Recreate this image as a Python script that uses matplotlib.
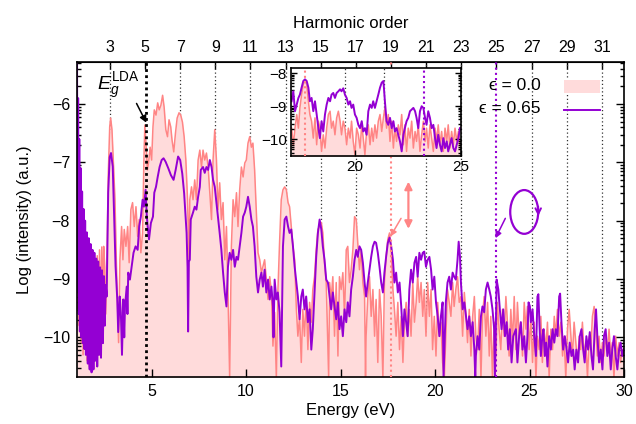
import numpy as np
import matplotlib
matplotlib.use("Agg")
import matplotlib.pyplot as plt
from matplotlib.patches import Ellipse, Rectangle
from matplotlib.lines import Line2D
from matplotlib.ticker import FixedLocator

plt.rcParams["font.family"] = ["Liberation Sans", "DejaVu Sans"]
plt.rcParams["mathtext.fontset"] = "custom"
plt.rcParams["mathtext.rm"] = "Liberation Sans"
plt.rcParams["mathtext.it"] = "Liberation Sans:italic"

OMEGA = 0.93    # laser photon energy (eV)
EG_LDA = 4.71   # LDA band gap (eV)
harmonics = [3, 5, 7, 9, 11, 13, 15, 17, 19, 21, 23, 25, 27, 29, 31]

# linear polarisation, epsilon = 0.0
energy_lin = [
    1.05, 1.09, 1.13, 1.17, 1.22, 1.27, 1.32, 1.37, 1.42, 1.47,
    1.53, 1.58, 1.64, 1.70, 1.76, 1.82, 1.88, 1.94, 2.00, 2.06,
    2.12, 2.18, 2.24, 2.30, 2.36, 2.42, 2.46, 2.52, 2.57,
    2.62, 2.70, 2.78, 2.83, 2.90, 2.97, 3.06, 3.13, 3.20, 3.25,
    3.32, 3.41, 3.48, 3.55, 3.64, 3.73, 3.81, 3.90, 3.99, 4.08,
    4.17, 4.26, 4.34, 4.43, 4.52, 4.59, 4.64, 4.71, 4.78, 4.85,
    4.92, 5.00, 5.07, 5.14, 5.23, 5.32, 5.40, 5.49, 5.58, 5.66,
    5.75, 5.84, 5.92, 6.01, 6.08, 6.17, 6.26, 6.35, 6.45, 6.54,
    6.63, 6.72, 6.81, 6.90, 6.98,
    7.02, 7.11, 7.19, 7.28, 7.37, 7.46, 7.55, 7.64, 7.72, 7.81,
    7.90, 7.99, 8.08, 8.17, 8.25, 8.34, 8.43, 8.51, 8.60, 8.69,
    8.78, 8.87, 8.96, 9.04, 9.13, 9.22, 9.31, 9.40, 9.49, 9.57,
    9.66, 9.75, 9.84, 9.93, 10.01, 10.10, 10.19, 10.28, 10.36, 10.45,
    10.54, 10.63, 10.72, 10.81, 10.89, 10.98, 11.07, 11.16, 11.25, 11.34,
    11.42, 11.51, 11.60, 11.68, 11.77, 11.86, 11.95, 12.04, 12.13, 12.22,
    12.30, 12.39, 12.48, 12.57,
    12.66, 12.74, 12.83, 12.92, 13.00, 13.09, 13.18, 13.27, 13.36, 13.45,
    13.53, 13.62, 13.71, 13.80, 13.89, 13.98, 14.06, 14.15, 14.24, 14.33,
    14.37, 14.42, 14.50, 14.59, 14.68, 14.77, 14.86, 14.94, 15.03, 15.12,
    15.21, 15.30, 15.38, 15.47, 15.56, 15.65, 15.74, 15.83, 15.91, 16.00,
    16.09, 16.18, 16.27, 16.32, 16.35, 16.44, 16.53, 16.62, 16.71, 16.80,
    16.88, 16.97, 17.06, 17.15, 17.24, 17.32, 17.41, 17.50, 17.59, 17.68,
    17.77, 17.85, 17.94, 18.03, 18.12, 18.21, 18.30, 18.38, 18.47, 18.55,
    18.64, 18.73, 18.82, 18.91, 19.00, 19.08, 19.17, 19.26, 19.35, 19.43,
    19.52, 19.61, 19.70, 19.79, 19.87, 19.96, 20.05, 20.14, 20.23, 20.31,
    20.40, 20.49, 20.57, 20.66, 20.75, 20.84, 20.93, 21.01, 21.10, 21.19,
    21.28, 21.37, 21.46, 21.55, 21.64, 21.72, 21.81, 21.90, 21.99, 22.08,
    22.16, 22.25, 22.34, 22.43, 22.51, 22.60, 22.69, 22.78, 22.87, 22.95,
    23.04, 23.13, 23.22, 23.30, 23.39, 23.48, 23.57, 23.66, 23.75, 23.83,
    23.92, 24.01, 24.10, 24.19,
    24.28, 24.36, 24.45, 24.54, 24.63, 24.72, 24.81, 24.89, 24.98, 25.07,
    25.16, 25.25, 25.34, 25.42, 25.51, 25.60, 25.68, 25.77, 25.86, 25.95,
    26.04, 26.13, 26.22, 26.31, 26.39, 26.48, 26.57, 26.66, 26.75, 26.83,
    26.92, 27.01, 27.10, 27.19, 27.27, 27.36, 27.45, 27.54, 27.63, 27.71,
    27.80, 27.89, 27.98, 28.07, 28.16, 28.24, 28.33, 28.42, 28.51, 28.59,
    28.68, 28.77, 28.86, 28.94, 29.03, 29.12, 29.21, 29.30, 29.38, 29.47,
    29.56, 29.65, 29.74, 29.82, 29.91, 30.00,
]
logi_lin = [
    -6.5, -9.5, -7.2, -9.8, -7.8, -10.1, -8.1, -10.3, -8.3, -10.2,
    -8.5, -10.4, -8.6, -10.5, -8.7, -10.4, -8.8, -10.3, -8.8, -10.2,
    -8.6, -10.3, -8.5, -9.9, -8.45, -9.6, -8.44, -8.8, -9.6,
    -9.01, -7.25, -6.39, -6.24, -6.44, -6.96, -7.64, -8.67, -9.52, -10.09,
    -8.67, -8.10, -8.67, -8.15, -8.44, -8.10, -8.72, -7.81, -7.69, -8.10,
    -7.76, -8.27, -7.98, -8.55, -8.21, -6.96, -6.36, -6.74, -7.13, -6.96,
    -6.74, -6.96, -6.39, -6.10, -6.19, -5.98, -6.10, -6.02, -5.85, -6.05,
    -6.44, -6.56, -6.27, -6.39, -6.62, -6.82, -6.50, -6.24, -6.15, -6.19,
    -6.31, -6.56, -6.96, -7.64, -8.67,
    -7.64, -7.42, -7.64, -7.30, -7.64, -6.96, -6.79, -7.08, -6.79, -6.96,
    -6.84, -7.08, -7.52, -7.98, -6.96, -6.44, -6.96, -7.81, -7.35, -7.98,
    -7.69, -8.67, -8.10, -9.23, -10.7, -8.44, -7.64, -7.93, -7.52, -8.10,
    -7.47, -7.08, -7.25, -7.01, -6.96, -6.67, -6.56, -6.74, -6.67, -7.13,
    -7.86, -8.55, -8.67, -8.89, -8.79, -8.67, -9.01, -9.35, -8.96, -9.23,
    -10.15, -9.57, -10.7, -9.23, -8.38, -7.64, -7.47, -7.42, -7.47, -7.69,
    -7.76, -8.10, -8.44, -8.67,
    -9.52, -9.98, -9.64, -10.43, -9.52, -9.98, -9.30, -10.21, -9.40, -9.74,
    -9.18, -8.96, -8.50, -8.15, -8.10, -8.03, -8.21, -8.72, -9.06, -10.21,
    -10.7, -9.06, -9.35, -8.96, -9.98, -9.06, -10.32, -8.96, -9.18, -8.89,
    -9.64, -8.50, -8.44, -9.06, -8.84, -8.50, -7.93, -7.98, -8.38, -8.84,
    -8.50, -9.06, -9.30, -10.7, -9.98, -9.30, -8.96, -9.64, -9.18, -9.98,
    -9.35, -10.43, -9.18, -9.64, -10.7, -9.06, -8.62, -8.32, -8.21, -8.50,
    -9.18, -9.52, -9.98, -9.40, -10.21, -9.64, -10.43, -9.74, -9.40, -9.98,
    -9.52, -9.98, -9.06, -9.74, -9.40, -8.96, -9.40, -9.06, -9.64, -9.18,
    -9.98, -9.06, -9.64, -9.18, -10.21, -9.64, -10.32, -9.40, -9.98, -9.74,
    -10.43, -10.7, -9.98, -9.18, -9.40, -9.64, -9.06, -9.47, -9.18, -8.96,
    -9.40, -9.30, -9.98, -9.23, -9.64, -10.09, -9.52, -10.32, -9.64, -9.30,
    -9.98, -10.21, -9.52, -10.7, -9.64, -9.30, -9.98, -9.40, -10.32, -9.64,
    -10.7, -9.74, -10.32, -9.40, -9.86, -10.21, -9.52, -9.98, -9.30, -9.74,
    -10.32, -9.52, -10.09, -9.30,
    -10.21, -9.40, -9.98, -9.74, -10.32, -9.40, -9.86, -9.47, -10.21, -9.64,
    -10.43, -9.74, -10.7, -9.98, -10.21, -9.64, -10.43, -9.86, -10.21, -9.74,
    -10.7, -9.86, -10.21, -9.64, -9.98, -9.52, -9.98, -9.74, -10.32, -9.98,
    -10.7, -9.86, -9.52, -9.98, -10.32, -9.74, -10.09, -10.43, -9.98, -10.21,
    -9.74, -10.32, -10.09, -10.7, -9.98, -10.21, -9.64, -9.47, -9.86, -10.32,
    -9.98, -10.43, -10.09, -10.32, -9.98, -10.21, -9.86, -10.32, -10.09, -10.7,
    -9.98, -10.32, -10.09, -10.43, -10.21, -10.30,
]

# elliptical polarisation, epsilon = 0.65
energy_ell = [
    1.05, 1.08, 1.11, 1.14, 1.17, 1.20, 1.24, 1.28, 1.32, 1.36,
    1.40, 1.44, 1.48, 1.52, 1.57, 1.62, 1.67, 1.72, 1.77, 1.82,
    1.87, 1.92, 1.97, 2.02, 2.07, 2.12, 2.17, 2.22, 2.27, 2.32,
    2.37, 2.42, 2.47, 2.52, 2.57,
    2.62, 2.70, 2.78, 2.85, 2.94, 3.02, 3.09, 3.18, 3.23, 3.31,
    3.37, 3.43, 3.50, 3.55, 3.59, 3.68, 3.72, 3.76, 3.85, 3.94,
    4.04, 4.15, 4.26, 4.34, 4.43, 4.52, 4.59, 4.68, 4.74, 4.79,
    4.86, 4.96, 5.07, 5.14, 5.23, 5.32, 5.42, 5.53, 5.63, 5.74,
    5.88, 6.02, 6.16, 6.27, 6.40, 6.51, 6.62, 6.72, 6.85, 6.90,
    6.93, 6.97, 7.02,
    7.07, 7.19, 7.28, 7.37, 7.46, 7.55, 7.60, 7.72, 7.81, 7.90,
    7.99, 8.08, 8.17, 8.25, 8.34, 8.43, 8.51, 8.60, 8.69, 8.78,
    8.87, 8.96, 9.04, 9.13, 9.22, 9.31, 9.40, 9.49, 9.57, 9.66,
    9.75, 9.84, 9.93, 10.01, 10.10, 10.19, 10.28, 10.36, 10.45, 10.54,
    10.63, 10.72, 10.81, 10.89, 10.98, 11.07, 11.16, 11.25, 11.34, 11.42,
    11.45, 11.51, 11.60, 11.68, 11.77, 11.86, 11.95, 12.04, 12.13, 12.22,
    12.30, 12.39, 12.48, 12.57, 12.74,
    12.83, 12.92, 13.00, 13.09, 13.18, 13.27, 13.36, 13.45, 13.53, 13.62,
    13.71, 13.80, 13.89, 13.98, 14.06, 14.15, 14.24, 14.33, 14.42, 14.50,
    14.59, 14.68, 14.77, 14.86, 14.94, 15.03, 15.12, 15.21, 15.30, 15.38,
    15.47, 15.56, 15.65, 15.74, 15.83, 15.91, 16.00, 16.09, 16.18, 16.27,
    16.35, 16.44, 16.53, 16.62, 16.71, 16.80, 16.88, 16.97, 17.06, 17.15,
    17.24, 17.32, 17.41, 17.50, 17.59, 17.68, 17.77, 17.85, 17.94, 18.03,
    18.12, 18.21, 18.30, 18.38, 18.47,
    18.55, 18.64, 18.73, 18.82, 18.91, 19.00, 19.08, 19.17, 19.26, 19.35,
    19.43, 19.52, 19.61, 19.70, 19.79, 19.87, 19.96, 20.05, 20.14, 20.23,
    20.31, 20.40, 20.45, 20.57, 20.66, 20.75, 20.84, 20.93, 21.01, 21.10,
    21.19, 21.25, 21.32, 21.37, 21.46, 21.55, 21.64, 21.72, 21.81, 21.90,
    21.99, 22.08, 22.13, 22.16, 22.25, 22.34, 22.43, 22.51, 22.60, 22.69,
    22.78, 22.87, 22.95, 23.04, 23.13, 23.17, 23.26, 23.35, 23.43, 23.52,
    23.61, 23.70, 23.79, 23.87, 23.96, 24.05, 24.14,
    24.28, 24.36, 24.45, 24.54, 24.63, 24.72, 24.81, 24.89, 24.95, 25.02,
    25.07, 25.16, 25.25, 25.34, 25.42, 25.47, 25.55, 25.60, 25.68, 25.74,
    25.81, 25.88, 25.95, 26.04, 26.13, 26.22, 26.31, 26.39, 26.48, 26.57,
    26.62, 26.69, 26.78, 26.87, 26.96, 27.04, 27.13, 27.22, 27.31, 27.39,
    27.48, 27.57, 27.66, 27.75, 27.84, 27.92, 28.01, 28.10, 28.19, 28.28,
    28.36, 28.45, 28.52, 28.59, 28.68, 28.77, 28.86, 28.94, 29.03, 29.12,
    29.21, 29.30, 29.38, 29.47, 29.56, 29.65, 29.74, 29.82, 29.91, 30.00,
]
logi_ell = [
    -5.0, -9.2, -5.9, -9.6, -6.6, -9.9, -7.1, -10.0, -7.5, -10.1,
    -7.8, -10.2, -8.0, -10.3, -8.2, -10.45, -8.3, -10.55, -8.4, -10.6,
    -8.5, -10.55, -8.55, -10.4, -8.65, -10.5, -8.7, -10.3, -8.8, -10.35,
    -8.85, -10.1, -8.95, -9.8, -9.1,
    -9.3, -7.52, -6.91, -6.84, -7.07, -7.98, -8.78, -9.35, -9.91, -9.30,
    -9.58, -10.30, -9.35, -10.0, -9.47, -9.13, -9.6, -8.89, -9.01, -8.79,
    -8.55, -8.44, -8.50, -8.10, -7.93, -7.64, -7.76, -7.47, -7.9, -8.10,
    -8.32, -8.04, -7.93, -7.52, -7.42, -7.25, -7.08, -6.96, -6.93, -6.99,
    -7.10, -7.22, -7.30, -7.13, -6.90, -6.96, -7.19, -7.53, -8.21, -8.8,
    -9.9, -8.7, -8.67,
    -7.98, -7.86, -7.76, -7.81, -7.59, -7.42, -7.13, -7.08, -7.18, -7.08,
    -7.13, -6.96, -7.08, -7.30, -7.42, -7.69, -7.93, -8.21, -8.50, -8.89,
    -9.23, -9.47, -8.79, -8.55, -8.67, -8.50, -8.79, -8.62, -8.67, -8.44,
    -8.21, -7.93, -7.86, -7.76, -7.59, -7.76, -7.98, -8.10, -8.44, -8.96,
    -9.23, -9.01, -8.89, -9.13, -8.84, -9.23, -9.01, -9.35, -9.13, -9.47,
    -10.0, -9.01, -9.35, -9.23, -9.57, -10.5, -8.44, -7.98, -7.93, -8.10,
    -8.21, -8.15, -8.44, -8.79, -9.30,
    -9.69, -9.30, -9.18, -9.52, -9.30, -9.74, -9.52, -10.21, -9.86, -9.23,
    -8.62, -8.21, -7.98, -8.15, -8.44, -8.67, -9.01, -9.06, -9.30, -9.52,
    -9.23, -9.47, -9.69, -9.40, -9.86, -9.64, -9.98, -9.52, -9.74, -9.40,
    -9.64, -9.18, -8.96, -8.67, -8.50, -8.62, -8.44, -8.50, -8.72, -9.06,
    -9.30, -9.06, -8.84, -8.62, -8.44, -8.36, -8.38, -8.55, -8.79, -9.06,
    -9.23, -8.89, -8.62, -8.38, -8.29, -8.44, -8.67, -9.06, -8.89, -9.23,
    -9.06, -9.47, -9.98, -9.52, -9.74,
    -9.98, -9.18, -8.84, -9.06, -8.72, -8.62, -8.96, -8.55, -8.67, -8.55,
    -8.53, -8.79, -8.67, -8.62, -8.84, -9.18, -8.96, -9.40, -9.64, -9.98,
    -9.64, -9.40, -10.7, -9.40, -9.06, -8.96, -9.18, -8.89, -8.96, -9.01,
    -8.67, -8.36, -8.62, -9.06, -9.52, -9.40, -9.64, -9.86, -9.64, -9.98,
    -9.74, -10.21, -10.7, -10.32, -9.98, -10.21, -9.64, -9.47, -9.57, -9.18,
    -9.06, -9.18, -9.30, -9.52, -9.86, -10.7, -9.01, -9.18, -9.52, -9.86,
    -9.52, -9.98, -9.74, -10.21, -9.86, -10.43, -9.98,
    -9.86, -10.43, -9.98, -9.74, -10.21, -9.98, -10.43, -9.98, -9.40, -9.47,
    -9.74, -9.52, -9.98, -10.32, -9.30, -9.26, -9.98, -10.32, -9.98, -9.86,
    -10.32, -10.09, -10.50, -9.98, -10.21, -9.86, -10.09, -9.86, -9.98, -9.30,
    -9.25, -9.74, -10.21, -9.98, -10.21, -10.43, -10.09, -10.32, -10.21, -10.55,
    -10.21, -10.43, -9.98, -9.86, -10.21, -10.43, -9.98, -10.21, -9.91, -10.32,
    -10.55, -9.86, -9.52, -9.98, -10.43, -10.21, -10.55, -9.98, -9.86, -10.32,
    -10.09, -10.55, -10.21, -9.98, -10.32, -10.55, -10.21, -10.09, -10.32, -10.20,
]

# inset: 17-25 eV window
inset_energy = [
    17.03, 17.11, 17.19, 17.27, 17.35, 17.42, 17.50, 17.58, 17.66, 17.74,
    17.82, 17.89, 17.97, 18.05, 18.13, 18.21, 18.29, 18.36, 18.44, 18.52,
    18.60, 18.68, 18.76, 18.84, 18.91, 18.99, 19.07, 19.15, 19.23, 19.31,
    19.38, 19.46, 19.54, 19.62, 19.70, 19.78, 19.85, 19.93, 20.01, 20.09,
    20.17, 20.25, 20.33, 20.40, 20.48, 20.56, 20.64, 20.72, 20.80, 20.87,
    20.95, 21.03, 21.11, 21.19, 21.27, 21.35, 21.42, 21.50, 21.58, 21.66,
    21.74, 21.82, 21.89, 21.97, 22.05, 22.13, 22.21, 22.29, 22.36, 22.44,
    22.52, 22.60, 22.68, 22.76, 22.84, 22.91, 22.99, 23.07, 23.15, 23.23,
    23.31, 23.38, 23.46, 23.54, 23.62, 23.70, 23.78, 23.85, 23.93, 24.01,
    24.09, 24.17, 24.25, 24.33, 24.40, 24.48, 24.56, 24.64, 24.72, 24.80,
    24.88, 24.95,
]
inset_lin = [
    -9.66, -10.16, -9.66, -9.25, -9.66, -9.05, -8.65, -8.34, -8.24, -8.34,
    -8.85, -9.25, -9.45, -9.96, -9.35, -10.16, -9.45, -9.66, -10.36, -9.86,
    -10.26, -9.66, -9.25, -9.15, -9.66, -9.45, -9.86, -9.35, -9.15, -9.45,
    -9.86, -9.45, -9.66, -10.16, -9.66, -9.96, -9.45, -10.06, -10.46, -9.66,
    -9.86, -10.26, -9.56, -9.96, -10.46, -9.76, -9.56, -10.16, -9.66, -10.06,
    -9.56, -9.96, -9.45, -9.25, -9.76, -9.35, -9.05, -9.66, -9.25, -10.06,
    -9.45, -10.26, -9.66, -10.06, -9.56, -9.86, -9.25, -10.16, -9.56, -10.36,
    -9.66, -9.96, -9.45, -10.26, -9.76, -10.06, -9.56, -10.36, -9.86, -9.45,
    -10.06, -9.66, -10.26, -9.56, -9.96, -10.36, -9.66, -10.06, -9.56, -10.16,
    -9.76, -10.36, -9.66, -10.06, -9.56, -10.26, -9.76, -10.16, -9.66, -10.06,
    -9.76, -10.16,
]
inset_ell = [
    -8.85, -8.55, -9.15, -8.95, -8.75, -8.65, -8.44, -8.24, -8.19, -8.24,
    -8.44, -8.85, -8.75, -9.15, -8.85, -9.25, -9.66, -9.96, -9.45, -9.76,
    -9.25, -8.95, -8.75, -8.85, -8.65, -8.60, -8.75, -8.60, -8.55, -8.49,
    -8.55, -8.46, -8.65, -8.75, -8.95, -8.85, -9.05, -8.95, -9.25, -9.35,
    -9.56, -9.66, -9.45, -9.76, -9.66, -9.86, -9.15, -8.95, -9.05, -8.85,
    -9.05, -8.85, -8.65, -8.44, -8.29, -8.24, -8.85, -9.45, -9.56, -9.35,
    -9.66, -9.45, -9.76, -9.66, -9.86, -10.06, -10.36, -9.86, -9.66, -9.45,
    -9.35, -9.15, -9.10, -9.05, -9.15, -9.35, -9.66, -9.15, -9.00, -9.05,
    -9.35, -9.56, -9.15, -9.35, -9.66, -9.56, -9.96, -10.26, -9.86, -10.16,
    -10.36, -9.96, -10.26, -10.06, -10.36, -10.16, -9.96, -10.26, -10.36, -10.16,
    -9.96, -9.66,
]

PINK = "#ff8585"
PINK_FILL = "#ffdbdb"
PURPLE = "#9400d3"
BOTTOM = -11.0

# log-style minor ticks between the integer decades
log_minor = [k + np.log10(m) for k in range(-11, -5) for m in range(2, 10)]

fig = plt.figure(figsize=(6.36, 4.24), dpi=100)
ax = fig.add_axes([0.1211, 0.1108, 0.8600, 0.7429])

for n in harmonics:
    if n in (5, 19, 25):
        continue
    ax.axvline(n * OMEGA, color="#333333", ls=(0, (1, 2)), lw=0.9, zorder=0.5)

ax.fill_between(energy_lin, logi_lin, BOTTOM, color=PINK_FILL, lw=0, zorder=1)
ax.plot(energy_lin, logi_lin, color=PINK, lw=1.1, zorder=1.5)
ax.plot(energy_ell, logi_ell, color=PURPLE, lw=1.4, zorder=2)

ax.axvline(EG_LDA, color="black", ls=(0, (1, 1.2)), lw=2.0, zorder=3)
ax.axvline(19 * OMEGA, color=PINK, ls=(0, (1, 1.5)), lw=1.5, zorder=3)
ax.axvline(25 * OMEGA, color=PURPLE, ls=(0, (1, 1.5)), lw=1.5, zorder=3)

ax.set_xlim(1.05, 30)
ax.set_ylim(-10.68, -5.28)
ax.set_xticks([5, 10, 15, 20, 25, 30])
ax.set_yticks([-10, -9, -8, -7, -6])
ax.yaxis.set_minor_locator(FixedLocator(log_minor))
ax.tick_params(which="both", direction="in", right=True, top=False, labelsize=11.5, width=1)
ax.tick_params(which="major", length=6, pad=5)
ax.tick_params(which="minor", length=3)
for s in ax.spines.values():
    s.set_linewidth(1.2)
ax.set_xlabel("Energy (eV)", fontsize=12, labelpad=3)
ax.set_ylabel("Log (intensity) (a.u.)", fontsize=12, labelpad=8)

top = ax.secondary_xaxis("top", functions=(lambda e: e / OMEGA, lambda n: n * OMEGA))
top.set_xticks(harmonics)
top.tick_params(direction="in", length=5, width=1, labelsize=11.5, pad=5)
top.set_xlabel("Harmonic order", fontsize=12, labelpad=9)

# annotations
arrow_kw = dict(shrinkA=0, shrinkB=0)
ax.text(2.09, -5.76, r"$E_g^{\rm LDA}$", fontsize=14)
ax.annotate("", xy=(4.72, -6.32), xytext=(4.20, -5.99),
            arrowprops=dict(arrowstyle="-|>", color="black", lw=1.1, mutation_scale=10, **arrow_kw))
ax.annotate("", xy=(18.59, -7.33), xytext=(18.59, -8.14),
            arrowprops=dict(arrowstyle="<|-|>", color=PINK, lw=1.6, mutation_scale=11, **arrow_kw))
ax.annotate("", xy=(17.64, -8.27), xytext=(18.20, -7.96),
            arrowprops=dict(arrowstyle="-|>", color=PINK, lw=1.1, mutation_scale=9, **arrow_kw))
ax.annotate("", xy=(23.20, -8.30), xytext=(23.72, -7.96),
            arrowprops=dict(arrowstyle="-|>", color=PURPLE, lw=1.1, mutation_scale=9, **arrow_kw))
ax.add_patch(Ellipse((24.72, -7.85), 1.48, 0.75, fill=False, ec=PURPLE, lw=1.6, zorder=4))
ax.annotate("", xy=(25.46, -7.92), xytext=(25.46, -7.76),
            arrowprops=dict(arrowstyle="->", color=PURPLE, lw=1.4, mutation_scale=10, **arrow_kw))

# legend
ax.text(0.848, 0.924, "ϵ = 0.0", transform=ax.transAxes, ha="right", va="center", fontsize=12.5)
ax.text(0.848, 0.851, "ϵ = 0.65", transform=ax.transAxes, ha="right", va="center", fontsize=12.5)
ax.add_patch(Rectangle((0.890, 0.902), 0.066, 0.041, transform=ax.transAxes,
                       color=PINK_FILL, lw=0, zorder=4))
ax.add_line(Line2D([0.890, 0.956], [0.848, 0.848], transform=ax.transAxes,
                   color=PURPLE, lw=1.4, zorder=4))

# inset
axin = fig.add_axes([0.4575, 0.632, 0.2673, 0.2075])
axin.axvline(21 * OMEGA, color="#333333", ls=(0, (1, 2)), lw=0.9, zorder=0.5)
axin.axvline(23 * OMEGA, color="#333333", ls=(0, (1, 2)), lw=0.9, zorder=0.5)
axin.fill_between(inset_energy, inset_lin, BOTTOM, color=PINK_FILL, lw=0, zorder=1)
axin.plot(inset_energy, inset_lin, color=PINK, lw=1.1, zorder=1.5)
axin.plot(inset_energy, inset_ell, color=PURPLE, lw=1.4, zorder=2)
axin.axvline(19 * OMEGA, color=PINK, ls=(0, (1, 1.5)), lw=1.5, zorder=3)
axin.axvline(25 * OMEGA, color=PURPLE, ls=(0, (1, 1.5)), lw=1.5, zorder=3)
axin.set_xlim(17, 25)
axin.set_ylim(-10.5, -7.85)
axin.set_xticks([20, 25])
axin.set_yticks([-10, -9, -8])
axin.yaxis.set_minor_locator(FixedLocator(log_minor))
axin.tick_params(which="both", direction="in", right=True, labelsize=11, width=1)
axin.tick_params(which="major", length=4, pad=3)
axin.tick_params(which="minor", length=2)
for s in axin.spines.values():
    s.set_linewidth(1.2)

plt.savefig("out.png", dpi=100)
